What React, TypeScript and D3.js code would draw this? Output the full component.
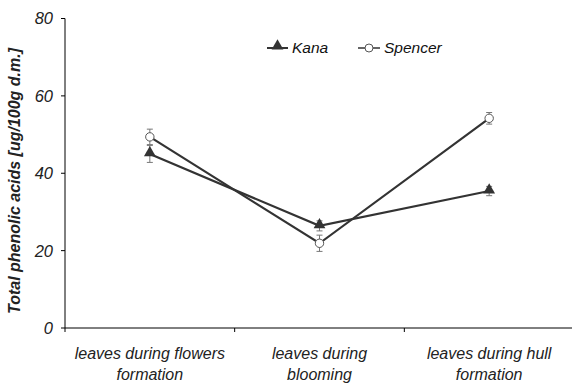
import React from "react";
import * as d3 from "d3";

const categories = [
  ["leaves during flowers", "formation"],
  ["leaves during", "blooming"],
  ["leaves during hull", "formation"],
];
const kanaValues = [45.0, 26.4, 35.4];
const kanaErrors = [2.2, 1.3, 1.2];
const spencerValues = [49.4, 21.9, 54.2];
const spencerErrors = [2.0, 2.1, 1.5];
const yTicks = [0, 20, 40, 60, 80];

const W = 572;
const H = 384;
const left = 65;
const right = 574;
const top = 18.5;
const bottom = 328;
const font = "'Liberation Sans', Arial, sans-serif";
const lineColor = "#333333";

export default function App() {
  const x = d3.scaleBand<number>().domain([0, 1, 2]).range([left, right]);
  const y = d3.scaleLinear().domain([0, 80]).range([bottom, top]);
  const cx = (i: number) => (x(i) as number) + x.bandwidth() / 2;

  const line = d3
    .line<number>()
    .x((_, i) => cx(i))
    .y((v) => y(v));

  const tri = d3.symbol().type(d3.symbolTriangle).size(60)();

  const errBars = (vals: number[], errs: number[], key: string) =>
    vals.map((v, i) => {
      const x0 = cx(i);
      const y1 = y(v + errs[i]);
      const y2 = y(v - errs[i]);
      return (
        <g key={key + i} stroke="#777" strokeWidth={1}>
          <line x1={x0} x2={x0} y1={y1} y2={y2} />
          <line x1={x0 - 3} x2={x0 + 3} y1={y1} y2={y1} />
          <line x1={x0 - 3} x2={x0 + 3} y1={y2} y2={y2} />
        </g>
      );
    });

  return (
    <svg
      width={W}
      height={H}
      style={{ position: "absolute", left: 0, top: 0, background: "#fff" }}
      fontFamily={font}
    >
      {/* axes */}
      <line x1={left} x2={left} y1={top} y2={bottom} stroke="#000" strokeWidth={1} />
      <line x1={left} x2={W} y1={bottom} y2={bottom} stroke="#000" strokeWidth={1} />
      {yTicks.map((t) => (
        <g key={t}>
          <line x1={left - 4} x2={left} y1={y(t)} y2={y(t)} stroke="#000" />
          <text
            x={left - 12}
            y={y(t)}
            dy="0.36em"
            textAnchor="end"
            fontSize={16.5}
            fontStyle="italic"
            fill="#222"
          >
            {t}
          </text>
        </g>
      ))}
      {[0, 1, 2].map((i) => {
        const xx = left + i * x.step();
        return <line key={i} x1={xx} x2={xx} y1={bottom} y2={bottom + 4} stroke="#000" />;
      })}
      {categories.map((lines, i) => (
        <text
          key={i}
          x={cx(i)}
          y={359}
          textAnchor="middle"
          fontSize={16}
          fontStyle="italic"
          fill="#222"
        >
          {lines.map((l, j) => (
            <tspan key={j} x={cx(i)} dy={j === 0 ? 0 : 20.5}>
              {l}
            </tspan>
          ))}
        </text>
      ))}
      <text
        transform={`translate(20,181) rotate(-90)`}
        textAnchor="middle"
        fontSize={16}
        fontWeight="bold"
        fontStyle="italic"
        fill="#222"
      >
        Total phenolic acids [ug/100g d.m.]
      </text>

      {/* series lines */}
      <path d={line(kanaValues) || ""} fill="none" stroke={lineColor} strokeWidth={2.2} />
      <path d={line(spencerValues) || ""} fill="none" stroke={lineColor} strokeWidth={2.2} />

      {errBars(kanaValues, kanaErrors, "k")}
      {errBars(spencerValues, spencerErrors, "s")}

      {kanaValues.map((v, i) => (
        <path key={"km" + i} d={tri || ""} transform={`translate(${cx(i)},${y(v) - 1})`} fill={lineColor} />
      ))}
      {spencerValues.map((v, i) => (
        <circle key={"sm" + i} cx={cx(i)} cy={y(v)} r={4.2} fill="#fff" stroke="#555" strokeWidth={1} />
      ))}

      {/* legend */}
      <g>
        <line x1={267} x2={288} y1={48} y2={48} stroke={lineColor} strokeWidth={2} />
        <path d={tri || ""} transform="translate(277.5,46)" fill={lineColor} />
        <text x={292} y={48} dy="0.35em" fontSize={15.5} fontStyle="italic" fill="#111">
          Kana
        </text>
        <line x1={358} x2={380} y1={48} y2={48} stroke={lineColor} strokeWidth={1.5} />
        <circle cx={369} cy={48} r={4} fill="#fff" stroke="#555" strokeWidth={1} />
        <text x={384} y={48} dy="0.35em" fontSize={15.5} fontStyle="italic" fill="#111">
          Spencer
        </text>
      </g>
    </svg>
  );
}
